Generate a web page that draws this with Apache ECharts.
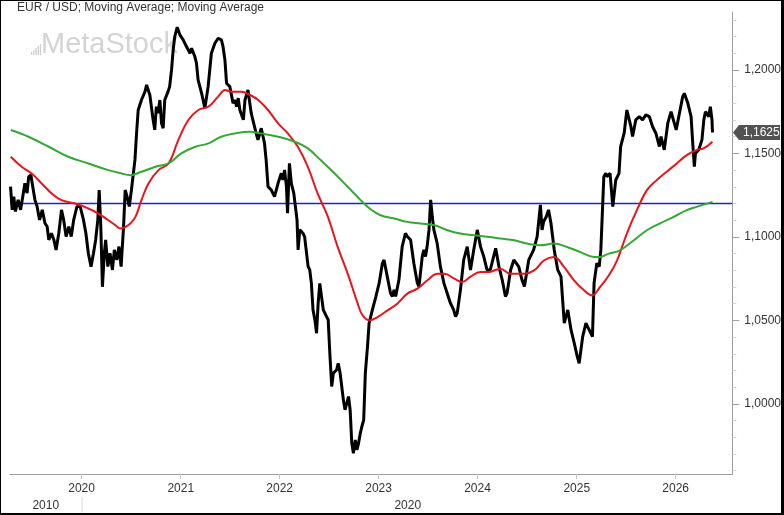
<!DOCTYPE html>
<html>
<head>
<meta charset="utf-8">
<script src="https://cdn.jsdelivr.net/npm/echarts@6/dist/echarts.min.js"></script>
<style>
  html, body { margin: 0; padding: 0; background: #fff; }
  #chart { width: 784px; height: 515px; }
</style>
</head>
<body>
<div id="chart"></div>
<script>
// EUR/USD close
const eurUsd = [
  ['2019-04-14', 1.1301], ['2019-04-20', 1.1162], ['2019-04-26', 1.1241], ['2019-05-02', 1.1152],
  ['2019-05-12', 1.1222], ['2019-05-21', 1.1162], ['2019-05-29', 1.1241], ['2019-06-06', 1.1321],
  ['2019-06-14', 1.1262], ['2019-06-20', 1.1361], ['2019-06-28', 1.1371], ['2019-07-05', 1.1301],
  ['2019-07-13', 1.1222], ['2019-07-21', 1.1182], ['2019-07-30', 1.1102], ['2019-08-09', 1.1162],
  ['2019-08-19', 1.1082], ['2019-08-27', 1.1062], ['2019-09-02', 1.0982], ['2019-09-12', 1.1022],
  ['2019-09-21', 1.0982], ['2019-09-29', 1.0922], ['2019-10-09', 1.1022], ['2019-10-19', 1.1162],
  ['2019-10-27', 1.1102], ['2019-11-05', 1.1002], ['2019-11-15', 1.1062], ['2019-11-24', 1.1002],
  ['2019-12-03', 1.1102], ['2019-12-15', 1.1182], ['2019-12-27', 1.1182], ['2020-01-08', 1.1102],
  ['2020-01-17', 1.1022], ['2020-01-26', 1.0902], ['2020-02-05', 1.0822], ['2020-02-14', 1.0902],
  ['2020-02-22', 1.0982], ['2020-03-01', 1.1102], ['2020-03-06', 1.1281], ['2020-03-12', 1.1062],
  ['2020-03-18', 1.0701], ['2020-03-25', 1.0902], ['2020-03-30', 1.0982], ['2020-04-07', 1.0822],
  ['2020-04-15', 1.0902], ['2020-04-24', 1.0802], ['2020-05-01', 1.0922], ['2020-05-10', 1.0862],
  ['2020-05-18', 1.0942], ['2020-05-26', 1.0822], ['2020-06-04', 1.1062], ['2020-06-10', 1.1281],
  ['2020-06-17', 1.1241], ['2020-06-25', 1.1182], ['2020-07-03', 1.1281], ['2020-07-16', 1.1461],
  ['2020-07-22', 1.1621], ['2020-07-28', 1.1760], ['2020-08-09', 1.1820], ['2020-08-22', 1.1870],
  ['2020-08-28', 1.1910], ['2020-09-09', 1.1850], ['2020-09-21', 1.1701], ['2020-09-27', 1.1641],
  ['2020-10-03', 1.1780], ['2020-10-09', 1.1741], ['2020-10-16', 1.1820], ['2020-10-22', 1.1681],
  ['2020-10-28', 1.1651], ['2020-11-03', 1.1820], ['2020-11-15', 1.1870], ['2020-11-21', 1.1900],
  ['2020-11-28', 1.2000], ['2020-12-04', 1.2120], ['2020-12-10', 1.2200], ['2020-12-19', 1.2256],
  ['2020-12-29', 1.2210], ['2021-01-04', 1.2220], ['2021-01-10', 1.2180], ['2021-01-22', 1.2140],
  ['2021-02-04', 1.2100], ['2021-02-10', 1.2130], ['2021-02-22', 1.2080], ['2021-02-28', 1.2040],
  ['2021-03-06', 1.1940], ['2021-03-19', 1.1860], ['2021-03-31', 1.1771], ['2021-04-12', 1.1900],
  ['2021-04-24', 1.2100], ['2021-05-07', 1.2160], ['2021-05-19', 1.2190], ['2021-05-31', 1.2180],
  ['2021-06-06', 1.2140], ['2021-06-13', 1.2060], ['2021-06-19', 1.1920], ['2021-07-01', 1.1900],
  ['2021-07-13', 1.1800], ['2021-07-20', 1.1820], ['2021-07-26', 1.1780], ['2021-08-01', 1.1831],
  ['2021-08-07', 1.1760], ['2021-08-20', 1.1701], ['2021-08-26', 1.1820], ['2021-09-06', 1.1880],
  ['2021-09-18', 1.1741], ['2021-09-24', 1.1701], ['2021-10-06', 1.1621], ['2021-10-13', 1.1581],
  ['2021-10-25', 1.1651], ['2021-11-06', 1.1561], ['2021-11-12', 1.1461], ['2021-11-19', 1.1301],
  ['2021-12-01', 1.1281], ['2021-12-13', 1.1241], ['2021-12-26', 1.1321], ['2022-01-07', 1.1381],
  ['2022-01-13', 1.1341], ['2022-01-19', 1.1401], ['2022-01-26', 1.1301], ['2022-01-30', 1.1142],
  ['2022-02-06', 1.1441], ['2022-02-13', 1.1321], ['2022-02-22', 1.1262], ['2022-02-28', 1.1262],
  ['2022-03-06', 1.1102], ['2022-03-10', 1.0922], ['2022-03-16', 1.1042], ['2022-03-28', 1.1022],
  ['2022-04-03', 1.1002], ['2022-04-16', 1.0822], ['2022-04-22', 1.0802], ['2022-04-28', 1.0722],
  ['2022-05-04', 1.0563], ['2022-05-11', 1.0503], ['2022-05-17', 1.0423], ['2022-05-23', 1.0603],
  ['2022-05-29', 1.0722], ['2022-06-11', 1.0563], ['2022-06-23', 1.0523], ['2022-06-29', 1.0503],
  ['2022-07-05', 1.0303], ['2022-07-12', 1.0104], ['2022-07-18', 1.0184], ['2022-07-30', 1.0204],
  ['2022-08-05', 1.0243], ['2022-08-12', 1.0184], ['2022-08-18', 1.0104], ['2022-08-24', 1.0024],
  ['2022-08-30', 0.9964], ['2022-09-12', 1.0044], ['2022-09-18', 0.9964], ['2022-09-24', 0.9764],
  ['2022-09-30', 0.9704], ['2022-10-07', 0.9784], ['2022-10-13', 0.9725], ['2022-10-19', 0.9764],
  ['2022-10-25', 0.9820], ['2022-10-31', 0.9863], ['2022-11-07', 0.9903], ['2022-11-13', 1.0184],
  ['2022-11-21', 1.0343], ['2022-11-27', 1.0483], ['2022-12-09', 1.0563], ['2022-12-22', 1.0643],
  ['2023-01-03', 1.0723], ['2023-01-15', 1.0842], ['2023-01-21', 1.0862], ['2023-02-02', 1.0762],
  ['2023-02-14', 1.0663], ['2023-02-21', 1.0643], ['2023-02-27', 1.0683], ['2023-03-05', 1.0643],
  ['2023-03-17', 1.0743], ['2023-03-29', 1.0942], ['2023-04-10', 1.1022], ['2023-04-17', 1.1002],
  ['2023-04-23', 1.1012], ['2023-04-29', 1.0982], ['2023-05-11', 1.0842], ['2023-05-24', 1.0723],
  ['2023-05-30', 1.0703], ['2023-06-11', 1.0882], ['2023-06-17', 1.0922], ['2023-06-23', 1.0882],
  ['2023-06-29', 1.0942], ['2023-07-06', 1.1042], ['2023-07-12', 1.1222], ['2023-07-18', 1.1122],
  ['2023-07-24', 1.1042], ['2023-08-05', 1.0962], ['2023-08-17', 1.0822], ['2023-08-30', 1.0723],
  ['2023-09-11', 1.0663], ['2023-09-23', 1.0603], ['2023-10-05', 1.0563], ['2023-10-12', 1.0523],
  ['2023-10-18', 1.0543], ['2023-10-30', 1.0683], ['2023-11-11', 1.0862], ['2023-11-24', 1.0942],
  ['2023-12-06', 1.0802], ['2023-12-18', 1.0922], ['2023-12-31', 1.1042], ['2024-01-12', 1.0942],
  ['2024-01-24', 1.0882], ['2024-02-05', 1.0802], ['2024-02-17', 1.0802], ['2024-03-08', 1.0932],
  ['2024-03-20', 1.0822], ['2024-04-01', 1.0743], ['2024-04-13', 1.0643], ['2024-04-19', 1.0663],
  ['2024-05-02', 1.0802], ['2024-05-14', 1.0862], ['2024-06-01', 1.0822], ['2024-06-13', 1.0743],
  ['2024-06-22', 1.0703], ['2024-07-08', 1.0862], ['2024-07-26', 1.0922], ['2024-08-08', 1.1002],
  ['2024-08-20', 1.1192], ['2024-08-26', 1.1042], ['2024-09-01', 1.1092], ['2024-09-11', 1.1122],
  ['2024-09-19', 1.1162], ['2024-09-28', 1.1082], ['2024-10-10', 1.0922], ['2024-10-23', 1.0802],
  ['2024-11-04', 1.0762], ['2024-11-16', 1.0483], ['2024-11-29', 1.0563], ['2024-12-11', 1.0443],
  ['2024-12-23', 1.0363], ['2025-01-03', 1.0283], ['2025-01-10', 1.0243], ['2025-01-23', 1.0403],
  ['2025-02-04', 1.0483], ['2025-02-16', 1.0443], ['2025-02-28', 1.0403], ['2025-03-06', 1.0723],
  ['2025-03-16', 1.0842], ['2025-03-25', 1.0822], ['2025-03-31', 1.0922], ['2025-04-06', 1.1162],
  ['2025-04-11', 1.1361], ['2025-04-18', 1.1381], ['2025-04-22', 1.1361], ['2025-05-04', 1.1381],
  ['2025-05-14', 1.1181], ['2025-05-25', 1.1341], ['2025-06-06', 1.1381], ['2025-06-12', 1.1541],
  ['2025-06-25', 1.1621], ['2025-07-05', 1.1760], ['2025-07-20', 1.1660], ['2025-07-26', 1.1601],
  ['2025-08-07', 1.1701], ['2025-08-20', 1.1720], ['2025-09-01', 1.1701], ['2025-09-13', 1.1731],
  ['2025-09-26', 1.1720], ['2025-10-08', 1.1660], ['2025-10-20', 1.1621], ['2025-11-02', 1.1541],
  ['2025-11-08', 1.1601], ['2025-11-20', 1.1521], ['2025-12-03', 1.1681], ['2025-12-15', 1.1750],
  ['2025-12-27', 1.1681], ['2026-01-03', 1.1641], ['2026-01-15', 1.1741], ['2026-01-27', 1.1840],
  ['2026-02-02', 1.1860], ['2026-02-15', 1.1800], ['2026-02-27', 1.1720], ['2026-03-05', 1.1561],
  ['2026-03-11', 1.1421], ['2026-03-15', 1.1501], ['2026-03-27', 1.1521], ['2026-04-08', 1.1581],
  ['2026-04-15', 1.1701], ['2026-04-21', 1.1750], ['2026-05-03', 1.1720], ['2026-05-09', 1.1780],
  ['2026-05-15', 1.1701], ['2026-05-17', 1.1625]
];

// red moving average
const maFast = [
  ['2019-04-15', 1.148], ['2019-05-25', 1.142], ['2019-07-01', 1.138], ['2019-08-07', 1.132],
  ['2019-09-13', 1.126], ['2019-10-19', 1.122], ['2019-12-09', 1.120], ['2020-01-26', 1.117],
  ['2020-03-03', 1.114], ['2020-04-09', 1.110], ['2020-05-05', 1.107], ['2020-05-23', 1.105],
  ['2020-06-11', 1.106], ['2020-06-29', 1.108], ['2020-07-18', 1.112], ['2020-08-09', 1.122],
  ['2020-09-04', 1.132], ['2020-10-11', 1.140], ['2020-11-17', 1.144], ['2020-12-23', 1.158],
  ['2021-01-29', 1.170], ['2021-03-07', 1.176], ['2021-04-13', 1.178], ['2021-05-19', 1.184],
  ['2021-06-14', 1.188], ['2021-07-06', 1.187], ['2021-08-12', 1.187], ['2021-09-14', 1.185],
  ['2021-10-14', 1.182], ['2021-11-19', 1.176], ['2021-12-26', 1.168], ['2022-01-31', 1.162],
  ['2022-03-09', 1.154], ['2022-04-15', 1.142], ['2022-05-21', 1.126], ['2022-06-28', 1.112],
  ['2022-08-03', 1.094], ['2022-09-09', 1.078], ['2022-10-16', 1.060], ['2022-11-03', 1.053],
  ['2022-11-29', 1.050], ['2022-12-28', 1.052], ['2023-02-03', 1.056], ['2023-03-11', 1.060],
  ['2023-04-17', 1.066], ['2023-05-24', 1.069], ['2023-06-30', 1.074], ['2023-08-06', 1.078],
  ['2023-09-01', 1.078], ['2023-10-07', 1.075], ['2023-11-05', 1.073], ['2023-12-05', 1.076],
  ['2024-01-11', 1.079], ['2024-02-13', 1.079], ['2024-03-25', 1.081], ['2024-04-30', 1.078],
  ['2024-06-21', 1.078], ['2024-07-28', 1.080], ['2024-09-03', 1.086], ['2024-10-09', 1.088],
  ['2024-11-15', 1.082], ['2024-12-22', 1.074], ['2025-01-28', 1.068], ['2025-02-27', 1.065],
  ['2025-03-28', 1.070], ['2025-04-30', 1.077], ['2025-05-30', 1.086], ['2025-07-05', 1.102],
  ['2025-08-11', 1.116], ['2025-09-17', 1.128], ['2025-10-23', 1.134], ['2025-11-29', 1.139],
  ['2026-01-05', 1.144], ['2026-02-11', 1.149], ['2026-03-19', 1.152], ['2026-04-14', 1.153],
  ['2026-05-17', 1.157]
];

// green moving average
const maSlow = [
  ['2019-04-15', 1.164], ['2019-06-19', 1.160], ['2019-09-02', 1.154], ['2019-11-13', 1.148],
  ['2020-01-26', 1.144], ['2020-04-09', 1.140], ['2020-05-27', 1.138], ['2020-06-29', 1.137],
  ['2020-08-09', 1.139], ['2020-09-30', 1.142], ['2020-11-17', 1.144], ['2021-01-03', 1.150],
  ['2021-02-24', 1.154], ['2021-04-13', 1.156], ['2021-05-30', 1.160], ['2021-07-21', 1.162],
  ['2021-09-14', 1.163], ['2021-10-24', 1.162], ['2021-12-26', 1.160], ['2022-02-26', 1.157],
  ['2022-04-15', 1.153], ['2022-06-01', 1.146], ['2022-07-23', 1.138], ['2022-09-09', 1.130],
  ['2022-10-27', 1.122], ['2022-11-29', 1.117], ['2023-01-08', 1.113], ['2023-02-28', 1.111],
  ['2023-04-17', 1.109], ['2023-06-04', 1.108], ['2023-07-26', 1.107], ['2023-09-12', 1.104],
  ['2023-10-29', 1.102], ['2023-12-20', 1.101], ['2024-02-13', 1.100], ['2024-03-25', 1.099],
  ['2024-05-16', 1.098], ['2024-07-02', 1.096], ['2024-08-19', 1.095], ['2024-10-09', 1.096],
  ['2024-11-26', 1.094], ['2025-01-13', 1.091], ['2025-03-06', 1.088], ['2025-03-28', 1.088],
  ['2025-04-30', 1.090], ['2025-06-10', 1.092], ['2025-07-31', 1.098], ['2025-09-17', 1.104],
  ['2025-11-03', 1.108], ['2025-12-25', 1.112], ['2026-02-11', 1.116], ['2026-03-19', 1.118],
  ['2026-05-17', 1.121]
];

const refLevel = 1.12;
const xStart = '2019-04-12', xEnd = '2026-07-29';
const yearTicks = [2020, 2021, 2022, 2023, 2024, 2025, 2026];
const decadeLabels = [2010, 2020];
const priceTicks = [1.0, 1.05, 1.1, 1.15, 1.2];
const minorTicks = [0.96, 0.97, 0.98, 0.99, 1.01, 1.02, 1.03, 1.04, 1.06, 1.07, 1.08, 1.09,
  1.11, 1.12, 1.13, 1.14, 1.16, 1.17, 1.18, 1.19, 1.21, 1.22, 1.23];

const FONT = 'Liberation Sans, Arial, sans-serif';
const yMin = 0.958, yMax = 1.2347;
const fmt = (v) => v.toFixed(4).replace('.', ',');
const ts = (d) => Date.parse(d + 'T00:00:00Z');
const yearStamp = (y) => Date.UTC(y, 0, 1);
const toXY = (rows) => rows.map(([d, v]) => [ts(d), v]);

const chart = echarts.init(document.getElementById('chart'));

const option = {
  backgroundColor: '#000',
  animation: false,
  grid: { left: 10, right: 50, top: 12, bottom: 41 },
  xAxis: {
    type: 'value',
    min: ts(xStart),
    max: ts(xEnd),
    splitLine: { show: false },
    axisLine: { lineStyle: { color: '#9c9c9c', width: 1 } },
    axisTick: { show: true, length: 5, lineStyle: { color: '#c4c4c4' }, customValues: yearTicks.map(yearStamp) },
    axisLabel: {
      customValues: yearTicks.map(yearStamp),
      formatter: (v) => String(new Date(v).getUTCFullYear()),
      color: '#333', fontSize: 12, fontFamily: FONT, margin: 9
    }
  },
  yAxis: [
    {
      type: 'value', position: 'right', min: yMin, max: yMax,
      splitLine: { show: false },
      axisLine: { show: true, lineStyle: { color: '#9c9c9c' } },
      axisTick: { show: true, length: 7, lineStyle: { color: '#a0a0a0' }, customValues: priceTicks },
      axisLabel: { customValues: priceTicks, formatter: fmt, color: '#333', fontSize: 12, fontFamily: FONT, margin: 12 }
    },
    {
      type: 'value', position: 'right', min: yMin, max: yMax,
      splitLine: { show: false },
      axisLine: { show: false },
      axisTick: { show: true, length: 4, lineStyle: { color: '#d2d2d2' }, customValues: minorTicks },
      axisLabel: { show: false }
    }
  ],
  series: [
    {
      name: 'ref', type: 'line', z: 1, silent: true, showSymbol: false,
      data: [[ts(xStart), refLevel], [ts(xEnd), refLevel]],
      lineStyle: { color: '#1f1fe0', width: 1.4 }, itemStyle: { color: '#1f1fe0' }
    },
    {
      name: 'EUR / USD', type: 'line', data: toXY(eurUsd), z: 2, showSymbol: false,
      lineStyle: { color: '#000', width: 3 }, itemStyle: { color: '#000' }
    },
    {
      name: 'Moving Average', type: 'line', data: toXY(maFast), z: 3, showSymbol: false, smooth: 0.4,
      lineStyle: { color: '#e8141c', width: 2 }, itemStyle: { color: '#e8141c' }
    },
    {
      name: 'Moving Average 2', type: 'line', data: toXY(maSlow), z: 4, showSymbol: false, smooth: 0.4,
      lineStyle: { color: '#33a833', width: 2 }, itemStyle: { color: '#33a833' }
    }
  ]
};

chart.setOption(option);

// overlay: frame, title, watermark, decade row, last-price tag
const last = eurUsd[eurUsd.length - 1];
const cy = chart.convertToPixel({ yAxisIndex: 0 }, last[1]);
const x2020 = chart.convertToPixel({ xAxisIndex: 0 }, yearStamp(2020));
const gLeft = 10, gRight = 784 - 50;

const bars = [3, 5, 7, 9, 11].map((h, i) => ({
  type: 'rect', silent: true, z: -5,
  shape: { x: 31 + i * 2.2, y: 55 - h, width: 1.3, height: h },
  style: { fill: '#cfcfcf' }
}));

chart.setOption({
  graphic: [
    { type: 'rect', silent: true, z: -10, shape: { x: 1, y: 1, width: 780, height: 512 }, style: { fill: '#fff' } },
    { type: 'text', silent: true, z: -5, style: { x: 41, y: 45, text: 'MetaStock', font: '29px ' + FONT, fill: '#d4d4d4', verticalAlign: 'middle' } },
    ...bars,
    { type: 'text', silent: true, style: { x: 17, y: 8, text: 'EUR / USD; Moving Average; Moving Average', font: '12px ' + FONT, fill: '#333', verticalAlign: 'middle' } },
    { type: 'line', silent: true, shape: { x1: x2020 + 0.5, y1: 497, x2: x2020 + 0.5, y2: 513 }, style: { stroke: '#d8d8d8', lineWidth: 1 } },
    { type: 'text', silent: true, style: { x: (gLeft + x2020) / 2, y: 506, text: String(decadeLabels[0]), font: '12px ' + FONT, fill: '#333', align: 'center', verticalAlign: 'middle' } },
    { type: 'text', silent: true, style: { x: (x2020 + gRight) / 2, y: 506, text: String(decadeLabels[1]), font: '12px ' + FONT, fill: '#333', align: 'center', verticalAlign: 'middle' } },
    {
      type: 'polygon', silent: true, z: 10,
      shape: { points: [[733, cy], [739, cy - 7.5], [780, cy - 7.5], [780, cy + 7.5], [739, cy + 7.5]] },
      style: { fill: '#525252' }
    },
    { type: 'text', silent: true, z: 11, style: { x: 743, y: cy, text: fmt(last[1]), font: '12px ' + FONT, fill: '#fff', verticalAlign: 'middle' } }
  ]
});
</script>
</body>
</html>
